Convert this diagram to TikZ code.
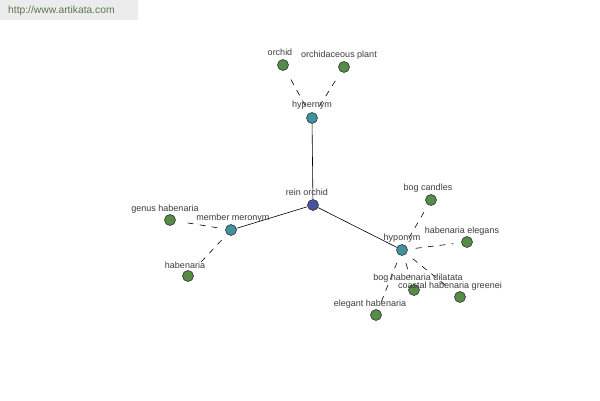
\documentclass[tikz,border=0pt]{standalone}
\usepackage{fontspec}
\setmainfont{Liberation Sans}
\definecolor{leafgreen}{RGB}{84,140,72}
\definecolor{hubteal}{RGB}{64,146,160}
\definecolor{rootblue}{RGB}{70,84,160}
\definecolor{txtgrey}{RGB}{60,60,60}
\definecolor{wmbg}{RGB}{236,236,236}
\definecolor{wmtxt}{RGB}{90,120,80}
\begin{document}
\begin{tikzpicture}[x=1pt,y=-1pt,
  dot/.style={circle,draw=black!80,line width=0.6pt,minimum size=11pt,inner sep=0pt},
  leaf/.style={dot,fill=leafgreen},
  hub/.style={dot,fill=hubteal},
  root/.style={dot,fill=rootblue},
  lbl/.style={font=\fontsize{9}{10}\selectfont,text=txtgrey,inner sep=0pt},
  rel/.style={dashed,dash pattern=on 6pt off 6pt,line width=0.6pt,shorten <=8pt,shorten >=8pt},
  main/.style={line width=0.6pt}]
\useasboundingbox (0,0) rectangle (600,400);
\fill[white] (0,0) rectangle (600,400);
\fill[wmbg] (0,0) rectangle (138,20);
\node[font=\fontsize{10.3}{11}\selectfont,text=wmtxt,anchor=west,inner sep=0pt] (wm) at (8,11) {http://www.artikata.com};

\node[root] (rein) at (313,205) {};
\node[hub] (hyper) at (312,118) {};
\node[hub] (mero) at (231,230) {};
\node[hub] (hypo) at (402,250) {};
\node[leaf] (orchid) at (283,65) {};
\node[leaf] (orchplant) at (344,67) {};
\node[leaf] (genus) at (170,220) {};
\node[leaf] (haben) at (188,276) {};
\node[leaf] (bogc) at (431,200) {};
\node[leaf] (elegans) at (467,242) {};
\node[leaf] (dilatata) at (414,290) {};
\node[leaf] (greenei) at (460,297) {};
\node[leaf] (elegant) at (376,315) {};

\draw[main] (rein) -- (hyper);
\draw[main] (rein) -- (mero);
\draw[main] (rein) -- (hypo);
\draw[rel] (hyper) -- (orchid);
\draw[rel] (hyper) -- (orchplant);
\draw[rel] (mero) -- (genus);
\draw[rel] (mero) -- (haben);
\draw[rel] (hypo) -- (bogc);
\draw[rel] (hypo) -- (elegans);
\draw[rel] (hypo) -- (dilatata);
\draw[rel] (hypo) -- (greenei);
\draw[rel] (hypo) -- (elegant);

\node[lbl] (lrein) at (307,192) {rein orchid};
\node[lbl] (lhyper) at (312,105) {hypernym};
\node[lbl] (lmero) at (233,218) {member meronym};
\node[lbl] (lhypo) at (402,238) {hyponym};
\node[lbl] (lorchid) at (280,52) {orchid};
\node[lbl] (lorchplant) at (339,55) {orchidaceous plant};
\node[lbl] (lgenus) at (165,209) {genus habenaria};
\node[lbl] (lhaben) at (185,265) {habenaria};
\node[lbl] (lbogc) at (428,188) {bog candles};
\node[lbl] (lelegans) at (462,231) {habenaria elegans};
\node[lbl] (ldilatata) at (418,278) {bog habenaria dilatata};
\node[lbl] (lgreenei) at (450,286) {coastal habenaria greenei};
\node[lbl] (lelegant) at (370,304) {elegant habenaria};
\end{tikzpicture}
\end{document}
